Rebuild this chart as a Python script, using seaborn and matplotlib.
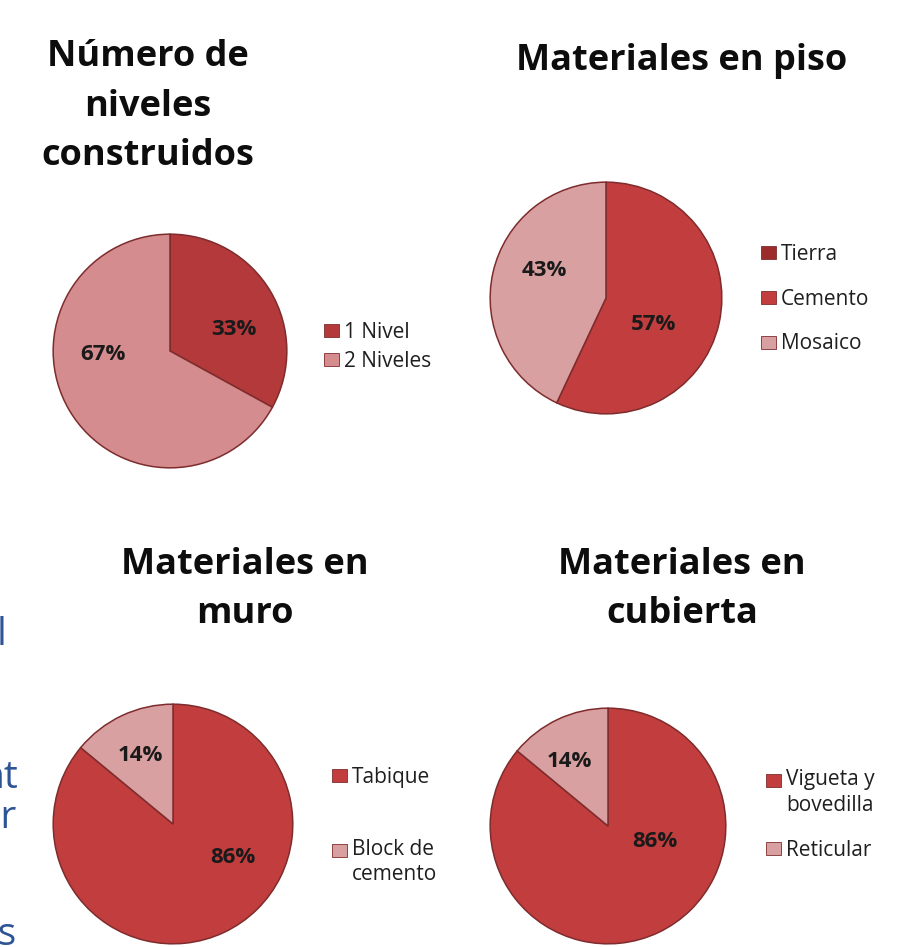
import matplotlib
matplotlib.use("Agg")
import matplotlib.pyplot as plt
import seaborn as sns

# datos de cada grafica
niveles_labels = ["1 Nivel", "2 Niveles"]
niveles_vals = [33, 67]

piso_labels = ["Tierra", "Cemento", "Mosaico"]
piso_vals = [0, 57, 43]

muro_labels = ["Tabique", "Block de\ncemento"]
muro_vals = [86, 14]

cubierta_labels = ["Vigueta y\nbovedilla", "Reticular"]
cubierta_vals = [86, 14]

titles = ["Número de\nniveles\nconstruidos", "Materiales en piso",
          "Materiales en\nmuro", "Materiales en\ncubierta"]

sns.set_theme(style="white")
plt.rcParams["font.family"] = ["Open Sans", "DejaVu Sans"]

W, H = 908, 947
fig = plt.figure(figsize=(W / 100, H / 100), dpi=100)
fig.patch.set_facecolor("white")

DARK = "#b3393a"
RED = "#c23d3e"
PINK = "#d58c8e"
LIGHT = "#d9a0a1"
TIERRA = "#9c2b2c"
EDGE = "#7e2c2d"
LEG_FS = 15


def px_axes(cx, cy, r):
    return fig.add_axes([(cx - r) / W, (H - cy - r) / H, 2 * r / W, 2 * r / H])


def draw_pie(cx, cy, r, vals, labels, colors, label_pos, leg_x, leg_y, spacing):
    ax = px_axes(cx, cy, r)
    wedges, _, autotexts = ax.pie(
        vals, colors=colors, startangle=90, counterclock=False,
        autopct=lambda p: "" if p < 0.5 else "%.0f%%" % p,
        wedgeprops=dict(edgecolor=EDGE, linewidth=1.1),
        textprops=dict(fontsize=16, fontweight="bold", color="#1a1a1a"))
    ax.set_xlim(-1.01, 1.01)
    ax.set_ylim(-1.01, 1.01)
    ax.set_aspect("equal")
    shown = [t for t in autotexts if t.get_text()]
    for t, (x, y) in zip(shown, label_pos):
        t.set_position((x, y))
        t.set_ha("center")
        t.set_va("center")
    handles = [plt.Rectangle((0, 0), 1, 1, facecolor=c, edgecolor=EDGE, linewidth=0.6)
               for c in colors]
    leg = ax.legend(handles, labels, loc="center left",
                    bbox_to_anchor=(leg_x / W, 1 - leg_y / H), bbox_transform=fig.transFigure,
                    frameon=False, fontsize=LEG_FS, handlelength=0.7, handleheight=0.6,
                    handletextpad=0.25, borderpad=0, borderaxespad=0, labelspacing=spacing)
    # en etiquetas de dos lineas el cuadro va junto a la primera linea
    for txt, h in zip(leg.texts, leg.legend_handles):
        txt.set_color("#1f1f1f")
        if "\n" in txt.get_text():
            txt.set_linespacing(1.3)
            h.set_y(h.get_y() + 0.6 * LEG_FS)
    return ax


draw_pie(170, 351, 118, niveles_vals, niveles_labels, [DARK, PINK],
         [(0.55, 0.18), (-0.57, -0.03)], 324, 347, 0.38)
draw_pie(606, 298, 117, piso_vals, piso_labels, [TIERRA, RED, LIGHT],
         [(0.41, -0.23), (-0.53, 0.24)], 761, 299, 1.15)
draw_pie(173, 824, 121, muro_vals, muro_labels, [RED, LIGHT],
         [(0.50, -0.28), (-0.27, 0.57)], 332, 826, 2.45)
draw_pie(608, 826, 119, cubierta_vals, cubierta_labels, [RED, LIGHT],
         [(0.40, -0.13), (-0.33, 0.55)], 766, 815, 1.15)

# titulos (y = linea base de la ultima linea)
title_pos = [(148, 165), (682, 70), (245, 623), (682, 623)]
for (tx, ty), txt in zip(title_pos, titles):
    fig.text(tx / W, 1 - ty / H, txt, ha="center", va="baseline", fontsize=26,
             fontweight="bold", color="#0d0d0d", linespacing=1.5)

# texto azul cortado en el borde izquierdo
blue = "#2f5496"
for txt, bx, by in [("l", 7, 645), ("nt", 18, 788), ("or", 17, 828), ("es", 17, 945)]:
    fig.text(bx / W, 1 - by / H, txt, ha="right", va="baseline", fontsize=28, color=blue)

fig.savefig("out.png", dpi=100, facecolor="white")
